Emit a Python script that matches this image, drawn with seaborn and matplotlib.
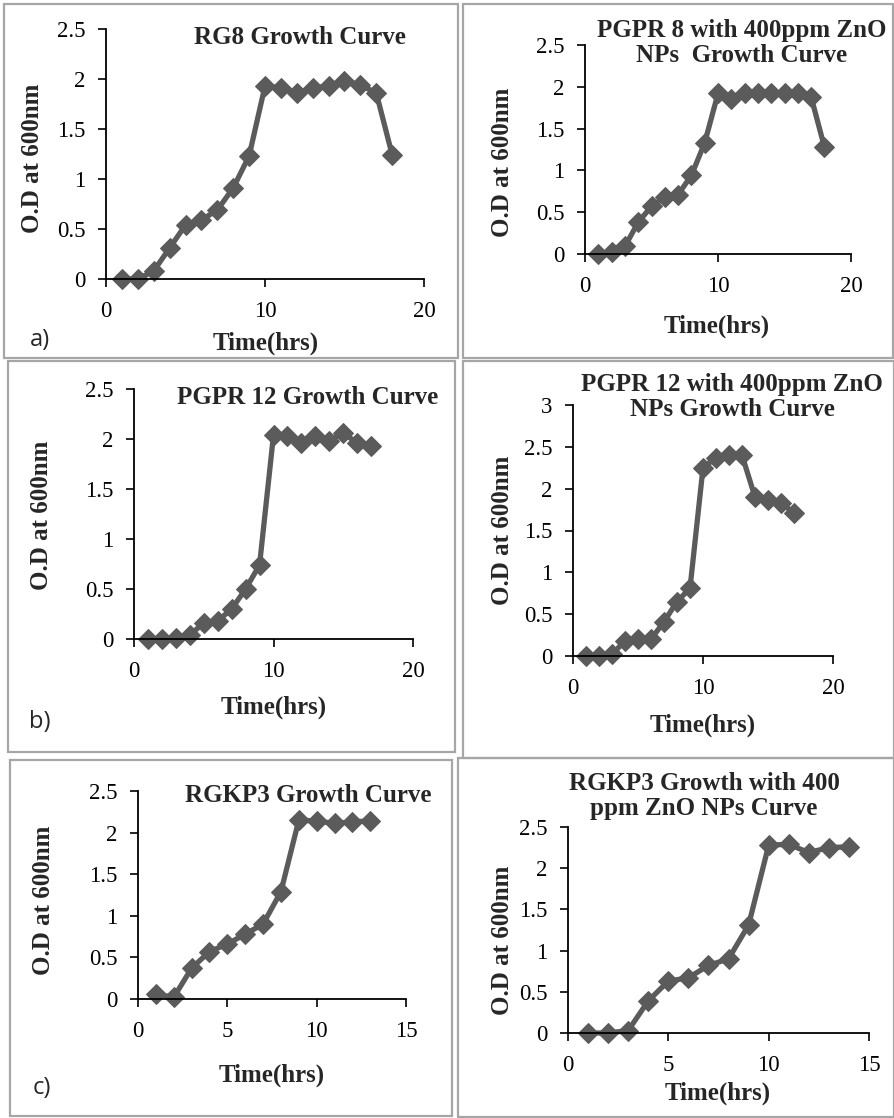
import matplotlib
matplotlib.use("Agg")
import matplotlib.pyplot as plt
from matplotlib.patches import Rectangle
import seaborn as sns
import pandas as pd

# ---------------- data ----------------
hours_a = [1, 2, 3, 4, 5, 6, 7, 8, 9, 10, 11, 12, 13, 14, 15, 16, 17, 18]
od_rg8 = [0.0, 0.0, 0.08, 0.31, 0.54, 0.59, 0.69, 0.91, 1.23, 1.93, 1.91, 1.86,
          1.91, 1.93, 1.98, 1.94, 1.86, 1.24]
od_pgpr8_zno = [0.0, 0.02, 0.09, 0.38, 0.57, 0.68, 0.71, 0.94, 1.33, 1.92, 1.86,
                1.92, 1.92, 1.92, 1.92, 1.92, 1.88, 1.28]

hours_b = [1, 2, 3, 4, 5, 6, 7, 8, 9, 10, 11, 12, 13, 14, 15, 16, 17]
od_pgpr12 = [0.0, 0.0, 0.01, 0.04, 0.16, 0.18, 0.30, 0.50, 0.74, 2.04, 2.03, 1.96,
             2.03, 1.98, 2.06, 1.96, 1.93]
od_pgpr12_zno = [0.0, 0.0, 0.02, 0.18, 0.20, 0.20, 0.41, 0.65, 0.81, 2.25, 2.37,
                 2.40, 2.40, 1.90, 1.87, 1.83, 1.71]

hours_c = [1, 2, 3, 4, 5, 6, 7, 8, 9, 10, 11, 12, 13]
od_rgkp3 = [0.06, 0.02, 0.37, 0.57, 0.66, 0.78, 0.90, 1.29, 2.15, 2.14, 2.11, 2.13, 2.14]
hours_c2 = [1, 2, 3, 4, 5, 6, 7, 8, 9, 10, 11, 12, 13, 14]
od_rgkp3_zno = [0.0, 0.0, 0.03, 0.39, 0.63, 0.67, 0.82, 0.90, 1.31, 2.28, 2.29,
                2.19, 2.25, 2.26]

titles = ["RG8 Growth Curve",
          "PGPR 8 with 400ppm ZnO\nNPs  Growth Curve",
          "PGPR 12 Growth Curve",
          "PGPR 12 with 400ppm ZnO\nNPs Growth Curve",
          "RGKP3 Growth Curve",
          "RGKP3 Growth with 400\nppm ZnO NPs Curve"]
x_label = "Time(hrs)"
y_label = "O.D at 600nm"
panel_tags = ["a)", "b)", "c)"]

# ---------------- style ----------------
sns.set_theme(style="ticks")
plt.rcParams["font.family"] = ["Liberation Serif", "DejaVu Serif"]

W, H = 895, 1118
fig = plt.figure(figsize=(W / 100, H / 100), dpi=100)

def fx(x):
    return x / W

def fy(y):
    return 1 - y / H

# panel borders (pixel boxes)
boxes = [(4, 4, 458, 358), (463, 4, 893, 358),
         (8, 361, 455, 752), (463, 361, 894, 758),
         (10, 760, 452, 1116), (458, 758, 894, 1117)]
for (x0, y0, x1, y1) in boxes:
    fig.patches.append(Rectangle((fx(x0), fy(y1)), fx(x1) - fx(x0), (y1 - y0) / H,
                                 transform=fig.transFigure, fill=False,
                                 edgecolor="#a6a6a6", linewidth=1.6))

# axes geometry: (left, right, top, bottom) pixels
panels = [
    dict(pos=(106, 424, 29, 279), x=hours_a, y=od_rg8, xmax=20, xstep=10, ymax=2.5,
         title_xy=(300, 38), xl_xy=(266, 343), yl_xy=(33, 158)),
    dict(pos=(585, 851, 45, 254), x=hours_a, y=od_pgpr8_zno, xmax=20, xstep=10, ymax=2.5,
         title_xy=(742, 43), xl_xy=(717, 326), yl_xy=(503, 162)),
    dict(pos=(134, 413, 389, 639), x=hours_b, y=od_pgpr12, xmax=20, xstep=10, ymax=2.5,
         title_xy=(308, 397), xl_xy=(274, 707), yl_xy=(42, 515)),
    dict(pos=(573, 833, 405, 656), x=hours_b, y=od_pgpr12_zno, xmax=20, xstep=10, ymax=3,
         title_xy=(732, 397), xl_xy=(703, 725), yl_xy=(503, 530)),
    dict(pos=(138, 406, 791, 999), x=hours_c, y=od_rgkp3, xmax=15, xstep=5, ymax=2.5,
         title_xy=(308, 795), xl_xy=(272, 1075), yl_xy=(44, 900)),
    dict(pos=(568, 869, 827, 1033), x=hours_c2, y=od_rgkp3_zno, xmax=15, xstep=5, ymax=2.5,
         title_xy=(704, 796), xl_xy=(718, 1093), yl_xy=(503, 940)),
]

line_color = "#5b5b5b"
for i, p in enumerate(panels):
    l, r, t, b = p["pos"]
    ax = fig.add_axes([fx(l), fy(b), (r - l) / W, (b - t) / H])
    df = pd.DataFrame({"Time": p["x"], "OD": p["y"]})
    sns.lineplot(data=df, x="Time", y="OD", ax=ax, color=line_color, linewidth=3.8,
                 marker="D", markersize=10.5, markeredgecolor=line_color,
                 markerfacecolor=line_color, clip_on=False)
    ax.set_xlim(0, p["xmax"])
    ax.set_ylim(0, p["ymax"])
    xt = list(range(0, p["xmax"] + 1, p["xstep"]))
    ax.set_xticks(xt)
    ax.set_xticklabels([str(v) for v in xt])
    yt = [v * 0.5 for v in range(int(p["ymax"] / 0.5) + 1)]
    ax.set_yticks(yt)
    ax.set_yticklabels([("%g" % v) for v in yt])
    ax.set_xlabel("")
    ax.set_ylabel("")
    for s in ["top", "right"]:
        ax.spines[s].set_visible(False)
    for s in ["left", "bottom"]:
        ax.spines[s].set_color("black")
        ax.spines[s].set_linewidth(1.3)
    ax.tick_params(axis="both", direction="out", length=6, width=1.2, color="black",
                   labelsize=16.5, labelcolor="black")
    ax.tick_params(axis="y", pad=9)
    ax.tick_params(axis="x", pad=10)
    ax.set_facecolor("none")
    # titles and labels
    tx, ty = p["title_xy"]
    fig.text(fx(tx), fy(ty), titles[i], ha="center", va="center", fontsize=18,
             fontweight="bold", linespacing=1.1)
    lx, ly = p["xl_xy"]
    fig.text(fx(lx), fy(ly), x_label, ha="center", va="center", fontsize=18,
             fontweight="bold")
    yx, yy = p["yl_xy"]
    fig.text(fx(yx), fy(yy), y_label, ha="center", va="center", fontsize=18,
             fontweight="bold", rotation=90)

tag_pos = [(40, 340), (40, 722), (42, 1088)]
for tag, (x, y) in zip(panel_tags, tag_pos):
    fig.text(fx(x), fy(y), tag, ha="center", va="center", fontsize=17,
             family=["Open Sans", "DejaVu Sans"])

fig.savefig("out.png", dpi=100)
